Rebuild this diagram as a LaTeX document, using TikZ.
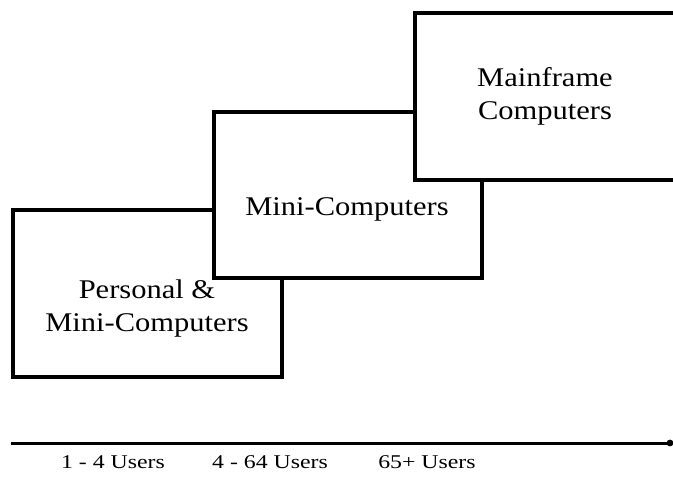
\documentclass[tikz,border=0pt]{standalone}
\usepackage{fontspec}
\setmainfont{Liberation Serif}
\newfontfamily\boxfont[FakeStretch=1.13]{Liberation Serif}
\newfontfamily\axisfont[FakeStretch=1.22]{Liberation Serif}
\begin{document}
\begin{tikzpicture}[x=1pt,y=-1pt,
  boxstyle/.style={draw=black,line width=3.2pt,fill=white,inner sep=0pt},
  boxtext/.style={align=center,font=\boxfont\fontsize{27}{33}\selectfont,inner sep=0pt},
  axistext/.style={font=\axisfont\fontsize{19.5}{22}\selectfont,inner sep=0pt}]
\useasboundingbox (0,0) rectangle (673,485);
\node[boxstyle,minimum width=269pt,minimum height=167pt] (b1) at (147.5,293.5) {};
\node[boxstyle,minimum width=268pt,minimum height=166pt] (b2) at (348,195) {};
\node[boxstyle,minimum width=262pt,minimum height=167pt] (b3) at (546,96.5) {};
\node[boxtext] (t1) at (147,309) {Personal \&\\Mini-Computers};
\node[boxtext] (t2) at (347,209) {Mini-Computers};
\node[boxtext] (t3) at (545,96) {Mainframe\\Computers};
\coordinate (axL) at (11,443);
\coordinate (axR) at (670,443);
\draw[line width=3pt] (axL) -- (axR);
\fill (axR) circle (3.4pt);
\node[axistext] (u1) at (113,462) {1 - 4 Users};
\node[axistext] (u2) at (270,462) {4 - 64 Users};
\node[axistext] (u3) at (427,462) {65+ Users};
\end{tikzpicture}
\end{document}
